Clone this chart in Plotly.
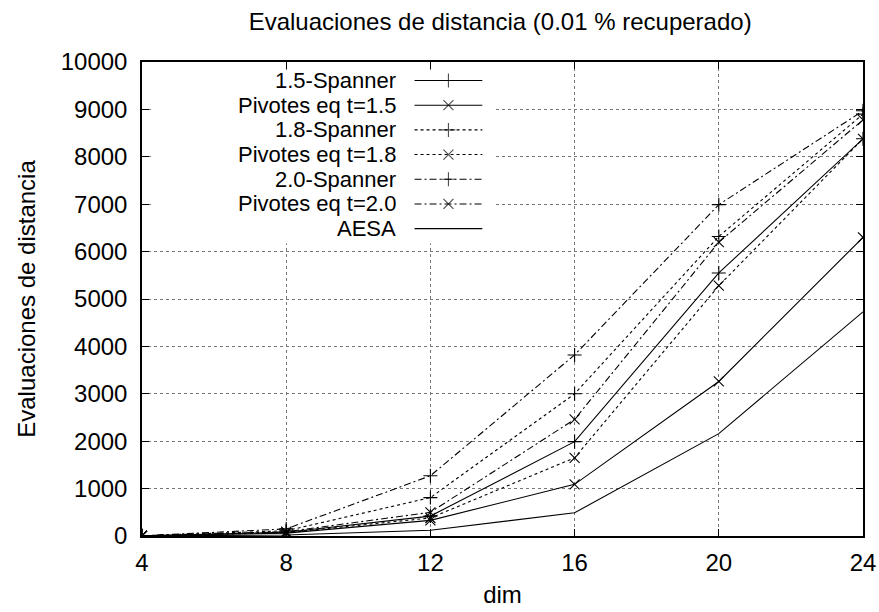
import plotly.graph_objects as go

dims = [4, 8, 12, 16, 20, 24]
series_names = ["1.5-Spanner", "Pivotes eq t=1.5", "1.8-Spanner", "Pivotes eq t=1.8",
                "2.0-Spanner", "Pivotes eq t=2.0", "AESA"]
span_15 = [5, 80, 420, 1990, 5550, 8380]
piv_15 = [5, 60, 330, 1090, 3260, 6300]
span_18 = [5, 110, 810, 3000, 6320, 8900]
piv_18 = [5, 70, 380, 1650, 5280, 8380]
span_20 = [5, 150, 1270, 3820, 6990, 8970]
piv_20 = [5, 90, 500, 2460, 6200, 8780]
aesa = [2, 20, 120, 490, 2160, 4730]
y_ticks = list(range(0, 10001, 1000))

values = [span_15, piv_15, span_18, piv_18, span_20, piv_20, aesa]
dashes = ["solid", "solid", "3px,3px", "3px,3px", "7px,3px,2px,3px", "7px,3px,2px,3px", "solid"]
symbols = ["cross-thin", "x-thin", "cross-thin", "x-thin", "cross-thin", "x-thin", None]

FONT = "Liberation Sans, Arial, sans-serif"
FS = 24
LEG_FS = 22
fig = go.Figure()

for name, vals, dash, sym in zip(series_names, values, dashes, symbols):
    mode = "lines+markers" if sym else "lines"
    fig.add_trace(go.Scatter(
        x=dims, y=vals, name=name, mode=mode,
        line=dict(color="black", width=1.1, dash=dash),
        marker=dict(symbol=sym or "circle", size=10, color="black",
                    line=dict(color="black", width=1.1)),
        showlegend=False))

# opaque legend box hiding the grid behind it (as in gnuplot), on the overlay axis
bx0, bx1, by0, by1 = 0.0125, 0.489, 0.617, 0.983
fig.add_trace(go.Scatter(
    x=[bx0, bx1, bx1, bx0, bx0], y=[by0, by0, by1, by1, by0], xaxis="x2", yaxis="y2",
    mode="lines", fill="toself", fillcolor="white", line=dict(width=0, color="white"),
    showlegend=False, hoverinfo="skip"))

# custom legend (text on left, sample on right)
row0 = 0.961
step = 0.0521
for i, (name, dash, sym) in enumerate(zip(series_names, dashes, symbols)):
    yy = row0 - i * step
    fig.add_trace(go.Scatter(
        x=[0.378, 0.425, 0.472], y=[yy, yy, yy], xaxis="x2", yaxis="y2",
        mode="lines+markers" if sym else "lines",
        line=dict(color="black", width=1.1, dash=dash),
        marker=dict(symbol=sym or "circle", size=[0, 10, 0], color="black",
                    line=dict(color="black", width=1.1)),
        showlegend=False, hoverinfo="skip"))
    fig.add_annotation(x=0.355, y=yy, xref="paper", yref="paper", text=name,
                       showarrow=False, xanchor="right", yanchor="middle",
                       font=dict(family=FONT, size=LEG_FS, color="black"))

axis_common = dict(showline=True, linecolor="black", linewidth=1.5, mirror="allticks",
                   ticks="inside", ticklen=7, tickcolor="black", tickwidth=1,
                   showgrid=True, gridcolor="#777777", griddash="dot", gridwidth=1,
                   zeroline=False, automargin=False,
                   tickfont=dict(family=FONT, size=FS, color="black"))

fig.update_layout(
    width=879, height=612,
    margin=dict(l=142, r=16, t=62, b=76),
    paper_bgcolor="white", plot_bgcolor="white",
    title=dict(text="Evaluaciones de distancia (0.01 % recuperado)", x=0.569, xanchor="center",
               y=0.964, yanchor="middle", font=dict(family=FONT, size=FS, color="black")),
    xaxis=dict(range=[4, 24], tickvals=dims, ticktext=[str(d) for d in dims],
               ticklabelstandoff=4,
               title=dict(text="dim", font=dict(family=FONT, size=FS, color="black"), standoff=12),
               **axis_common),
    yaxis=dict(range=[0, 10000], tickvals=y_ticks, ticktext=[str(t) for t in y_ticks],
               ticklabelstandoff=8,
               title=dict(text="Evaluaciones de distancia", font=dict(family=FONT, size=FS, color="black"),
                          standoff=18),
               **axis_common),
    xaxis2=dict(range=[0, 1], overlaying="x", visible=False, fixedrange=True),
    yaxis2=dict(range=[0, 1], overlaying="y", visible=False, fixedrange=True),
)

fig.write_html("out.html")
